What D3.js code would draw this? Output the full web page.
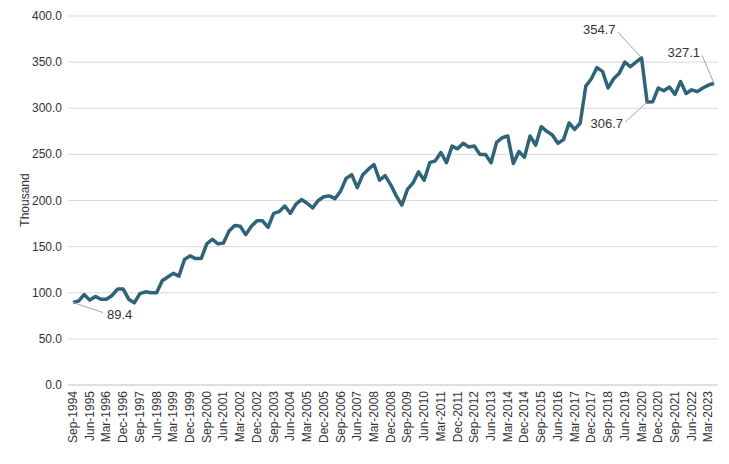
<!DOCTYPE html>
<html>
<head>
<meta charset="utf-8">
<script src="https://cdn.jsdelivr.net/npm/d3@7.9.0/dist/d3.min.js"></script>
<style>
  body { margin: 0; background: #fff; }
  text { font-family: "Liberation Sans", Arial, sans-serif; }
</style>
</head>
<body>
<svg id="chart" width="729" height="464"></svg>
<script>
// quarterly values, Sep-1994 .. Jun-2023 (thousand)
const values = [
  89.4, 91,
  98, 92, 96, 93,
  93, 97, 104, 104,
  93, 89, 99, 101,
  100, 100, 113, 117,
  121, 118, 136, 140,
  137, 137, 153, 158,
  153, 154, 167, 173,
  172, 163, 172, 178,
  178, 171, 186, 188,
  194, 186, 196, 201,
  197, 192, 200, 204,
  205, 202, 210, 224,
  228, 214, 228, 234,
  239, 222, 227, 217,
  205, 195, 212, 219,
  231, 222, 241, 243,
  252, 241, 259, 256,
  262, 258, 259, 250,
  250, 241, 263, 268,
  270, 240, 253, 247,
  270, 260, 280, 275,
  271, 262, 266, 284,
  277, 284, 324, 332,
  344, 340, 322, 332,
  338, 350, 345, 350,
  354.7, 306.7, 307, 322,
  319, 323, 315, 329,
  316, 320, 318, 322,
  325, 327.1
];
const months = ['Mar', 'Jun', 'Sep', 'Dec'];
const quarters = values.map((v, i) => {
  const q = i + 2; // Sep-1994 is quarter index 2 of 1994
  return months[q % 4] + '-' + (1994 + Math.floor(q / 4));
});
const yTicks = [0, 50, 100, 150, 200, 250, 300, 350, 400];
const callouts = [
  { i: 0, dx: 30, dy: 10, anchor: 'start' },
  { i: 102, dx: -24, dy: -26, anchor: 'end' },
  { i: 103, dx: -22, dy: 20, anchor: 'end' },
  { i: 115, dx: -12, dy: -28, anchor: 'end' }
];

const svg = d3.select('#chart');
const x = d3.scalePoint().domain(quarters).range([73, 714]);
const y = d3.scaleLinear().domain([0, 400]).range([385, 16]);

svg.append('g').selectAll('line').data(yTicks.slice(1)).join('line')
  .attr('x1', 68).attr('x2', 718)
  .attr('y1', d => y(d)).attr('y2', d => y(d))
  .attr('stroke', '#d9d9d9');

svg.append('line').attr('x1', 68).attr('x2', 718)
  .attr('y1', y(0)).attr('y2', y(0)).attr('stroke', '#bfbfbf');

svg.append('g').selectAll('text').data(yTicks).join('text')
  .attr('x', 62).attr('y', d => y(d) + 4)
  .attr('text-anchor', 'end').attr('font-size', 12).attr('fill', '#333')
  .text(d => d.toFixed(1));

svg.append('text').attr('transform', 'translate(29,200) rotate(-90)')
  .attr('text-anchor', 'middle').attr('font-size', 12).attr('fill', '#333')
  .text('Thousand');

svg.append('g').selectAll('text').data(quarters.filter((d, i) => i % 3 === 0)).join('text')
  .attr('transform', d => `translate(${x(d) + 4},${y(0) + 6}) rotate(-90)`)
  .attr('text-anchor', 'end').attr('font-size', 12).attr('fill', '#333')
  .text(d => d);

const line = d3.line().x((d, i) => x(quarters[i])).y(d => y(d));
svg.append('path').datum(values)
  .attr('d', line).attr('fill', 'none')
  .attr('stroke', '#2e6378').attr('stroke-width', 3.5)
  .attr('stroke-linejoin', 'round');

callouts.forEach(c => {
  const px = x(quarters[c.i]), py = y(values[c.i]);
  svg.append('line').attr('x1', px).attr('y1', py)
    .attr('x2', px + c.dx).attr('y2', py + c.dy)
    .attr('stroke', '#a6a6a6');
  svg.append('text')
    .attr('x', px + c.dx + (c.anchor === 'start' ? 4 : -2))
    .attr('y', py + c.dy + (c.dy > 0 ? 6 : 2))
    .attr('text-anchor', c.anchor).attr('font-size', 13).attr('fill', '#333')
    .text(values[c.i].toFixed(1));
});
</script>
</body>
</html>
